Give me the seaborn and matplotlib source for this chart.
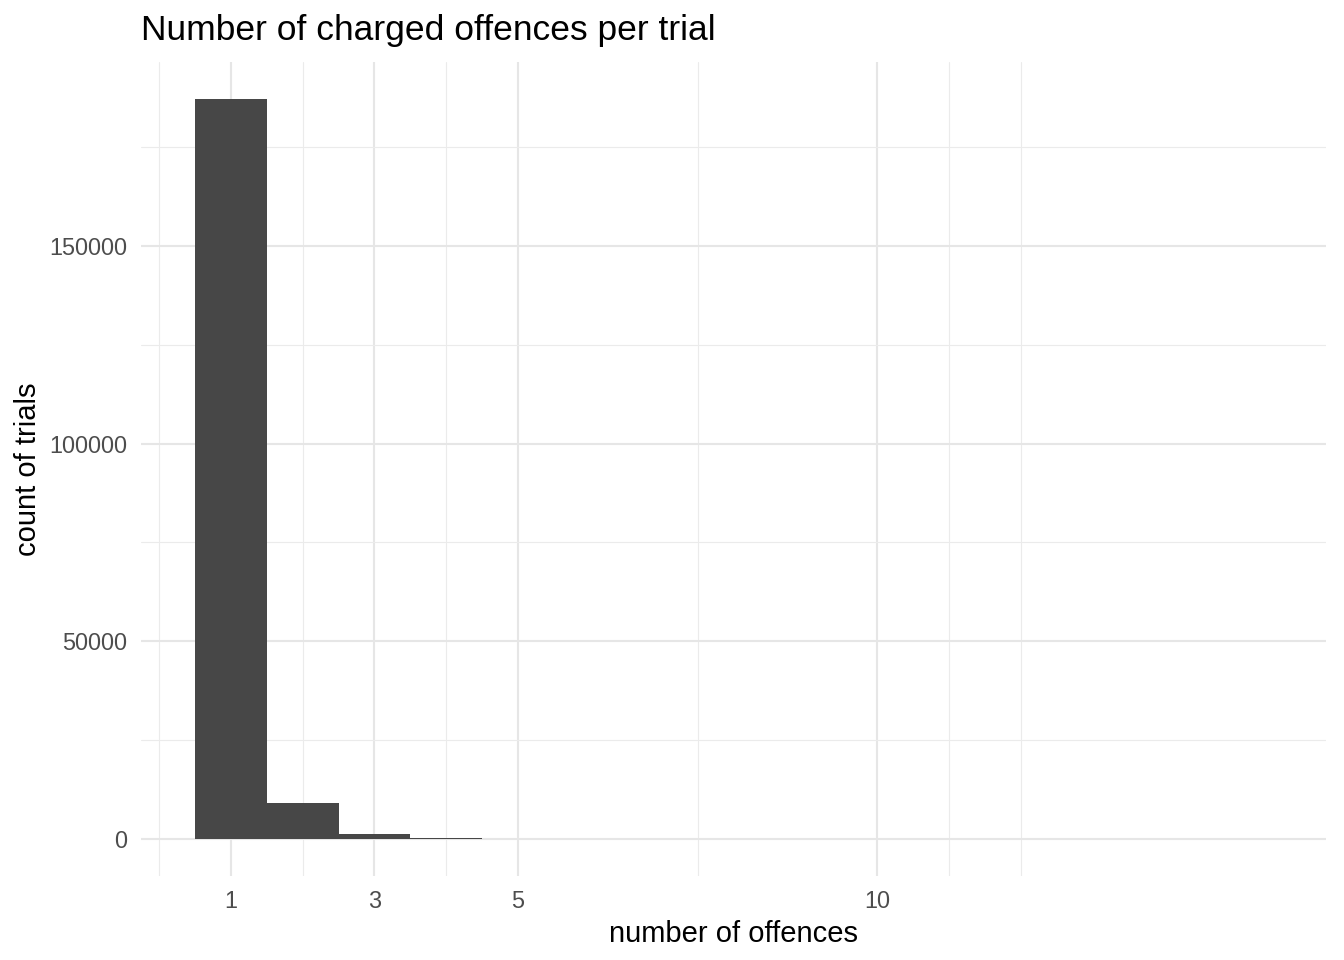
import numpy as np
import pandas as pd
import matplotlib
matplotlib.use("Agg")
import matplotlib.pyplot as plt
import seaborn as sns

# counts (binwidth 1)
offences = [1, 2, 3, 4, 5, 6, 7, 8, 9, 10, 11, 12, 13, 14, 15]
trials = [187150, 9100, 1260, 300, 100, 45, 20, 10, 5, 3, 2, 1, 1, 1, 1]

x_major = [1, 3, 5, 10]
x_minor = [0, 2, 4, 7.5, 11, 12]
y_major = [0, 50000, 100000, 150000]
y_minor = [25000, 75000, 125000, 175000]

df = pd.DataFrame({"offences": offences, "trials": trials})

sns.set_theme(style="white")
plt.rcParams['font.family'] = ['Liberation Sans', 'DejaVu Sans']

fig = plt.figure(figsize=(13.44, 9.6), dpi=100)
ax = fig.add_axes([141 / 1344, 84 / 960, (1326 - 141) / 1344, (876 - 62) / 960])

sns.histplot(data=df, x="offences", weights="trials", discrete=True,
             color="#474747", alpha=1, linewidth=0, ax=ax)

ax.set_xlim(-0.25, 16.25)
ax.set_ylim(-187150 * 0.05, 187150 * 1.05)

ax.set_xticks(x_major)
ax.set_xticklabels([str(v) for v in x_major])
ax.set_xticks(x_minor, minor=True)
ax.set_yticks(y_major)
ax.set_yticklabels([str(v) for v in y_major])
ax.set_yticks(y_minor, minor=True)

ax.grid(which="major", color="#E6E6E6", linewidth=1.5)
ax.grid(which="minor", color="#EBEBEB", linewidth=0.8)
ax.set_axisbelow(True)
for s in ax.spines.values():
    s.set_visible(False)
ax.tick_params(which="both", length=0)
ax.tick_params(axis="x", labelsize=16.9, colors="#4D4D4D", pad=10)
ax.tick_params(axis="y", labelsize=16.9, colors="#4D4D4D", pad=10)

ax.set_xlabel("number of offences", fontsize=21, color="black", labelpad=5)
ax.set_ylabel("count of trials", fontsize=21, color="black", labelpad=5)

fig.text(141 / 1344, 1 - 40 / 960, "Number of charged offences per trial",
         fontsize=25.5, color="black", ha="left", va="baseline")

fig.savefig("out.png", dpi=100)
